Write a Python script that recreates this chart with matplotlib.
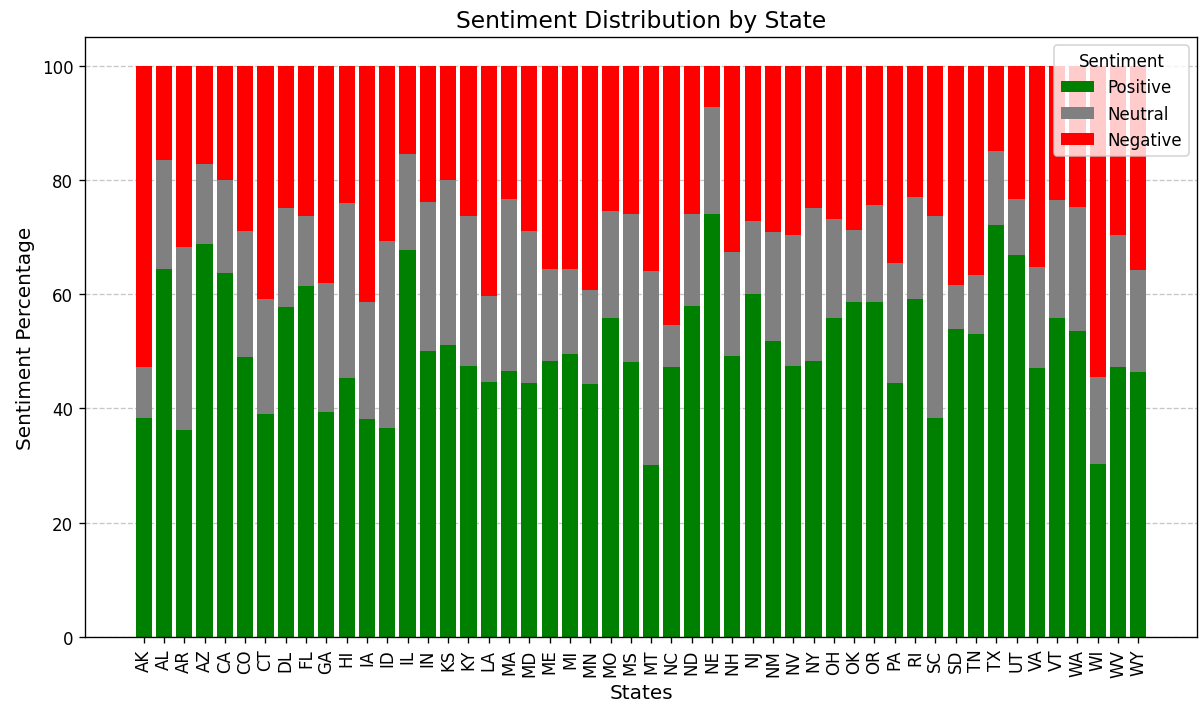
import numpy as np
import matplotlib
matplotlib.use("Agg")
import matplotlib.pyplot as plt

states = ["AK", "AL", "AR", "AZ", "CA", "CO", "CT", "DL", "FL", "GA",
          "HI", "IA", "ID", "IL", "IN", "KS", "KY", "LA", "MA", "MD",
          "ME", "MI", "MN", "MO", "MS", "MT", "NC", "ND", "NE", "NH",
          "NJ", "NM", "NV", "NY", "OH", "OK", "OR", "PA", "RI", "SC",
          "SD", "TN", "TX", "UT", "VA", "VT", "WA", "WI", "WV", "WY"]

positive = [38.3, 64.4, 36.3, 68.7, 63.7, 49.0, 39.1, 57.8, 61.4, 39.4,
            45.3, 38.1, 36.6, 67.8, 50.1, 51.1, 47.5, 44.7, 46.6, 44.5,
            48.3, 49.6, 44.3, 55.9, 48.2, 30.1, 47.3, 58.0, 74.1, 49.2,
            60.1, 51.8, 47.5, 48.3, 55.9, 58.6, 58.6, 44.5, 59.1, 38.3,
            53.9, 53.1, 72.1, 66.8, 47.1, 55.9, 53.5, 30.3, 47.3, 46.4]

# cumulative top of the neutral segment (positive + neutral)
pos_neu = [47.2, 83.5, 68.3, 82.8, 80.0, 71.1, 59.2, 75.1, 73.6, 62.0,
           76.0, 58.6, 69.3, 84.5, 76.2, 80.0, 73.6, 59.7, 76.6, 71.1,
           64.4, 64.4, 60.8, 74.5, 74.1, 64.0, 54.6, 74.1, 92.7, 67.4,
           72.8, 70.8, 70.4, 75.1, 73.2, 71.3, 75.6, 65.5, 77.0, 73.6,
           61.6, 63.3, 85.0, 76.6, 64.8, 76.4, 75.3, 45.5, 70.4, 64.2]

positive = np.array(positive)
neutral = np.array(pos_neu) - positive
negative = 100 - np.array(pos_neu)

fig, ax = plt.subplots(figsize=(10, 5.883), dpi=120)
ax.bar(states, positive, color="green", label="Positive")
ax.bar(states, neutral, bottom=positive, color="gray", label="Neutral")
ax.bar(states, negative, bottom=positive + neutral, color="red", label="Negative")

ax.set_title("Sentiment Distribution by State", fontsize=14)
ax.set_xlabel("States", fontsize=12)
ax.set_ylabel("Sentiment Percentage", fontsize=12)
plt.xticks(rotation=90)
ax.legend(title="Sentiment", loc="upper right")
ax.grid(axis="y", ls="--", alpha=0.7)
ax.set_axisbelow(True)
fig.subplots_adjust(left=85 / 1200, right=1197 / 1200,
                    top=1 - 38 / 706, bottom=1 - 638 / 706)
plt.savefig("out.png", dpi=120)
